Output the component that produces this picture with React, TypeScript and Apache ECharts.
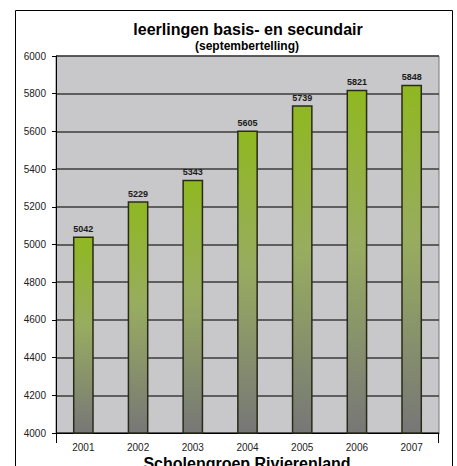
import React, { useEffect, useRef } from "react";
import * as echarts from "echarts";

const categories = ["2001", "2002", "2003", "2004", "2005", "2006", "2007"];
const values = [5042, 5229, 5343, 5605, 5739, 5821, 5848];
const titleText = "leerlingen basis- en secundair";
const subtitleText = "(septembertelling)";
const bottomText = "Scholengroep Rivierenland";

const FONT = "'Liberation Sans', Arial, Helvetica, sans-serif";

export default function App() {
  const ref = useRef<HTMLDivElement>(null);
  useEffect(() => {
    document.body.style.margin = "0";
    const chart = echarts.init(ref.current!, null, { renderer: "svg" });
    const gl = 56, gt = 56, gr = 439, gb = 433;
    chart.setOption({
      animation: false,
      backgroundColor: "#ffffff",
      textStyle: { fontFamily: FONT },
      grid: {
        left: gl,
        top: gt,
        right: 457 - gr,
        bottom: 466 - gb,
        show: true,
        backgroundColor: "#c8c8ca",
        borderColor: "#777777",
        borderWidth: 1,
      },
      graphic: [
        {
          type: "rect",
          shape: { x: 15.5, y: 10.5, width: 437, height: 470 },
          style: { fill: "none", stroke: "#000", lineWidth: 1 },
          silent: true,
          z: -10,
        },
        {
          type: "text",
          x: 248,
          y: 29,
          style: {
            text: titleText,
            font: `bold 16px ${FONT}`,
            fill: "#000",
            align: "center",
            verticalAlign: "middle",
          },
        },
        {
          type: "text",
          x: 247,
          y: 46,
          style: {
            text: subtitleText,
            font: `bold 12px ${FONT}`,
            fill: "#000",
            align: "center",
            verticalAlign: "middle",
          },
        },
        {
          type: "text",
          x: 247,
          y: 463,
          style: {
            text: bottomText,
            font: `bold 16px ${FONT}`,
            fill: "#000",
            align: "center",
            verticalAlign: "middle",
          },
        },
        {
          type: "line",
          shape: { x1: gl + 0.5, y1: gb, x2: gl + 0.5, y2: gb + 10 },
          style: { stroke: "#000", lineWidth: 1 },
        },
        {
          type: "line",
          shape: { x1: gr - 0.5, y1: gb, x2: gr - 0.5, y2: gb + 10 },
          style: { stroke: "#000", lineWidth: 1 },
        },
      ],
      xAxis: {
        type: "category",
        data: categories,
        axisLine: { show: true, lineStyle: { color: "#000", width: 1 } },
        axisTick: { show: false },
        axisLabel: { color: "#222", fontSize: 10, margin: 9, fontFamily: FONT },
        splitLine: { show: false },
      },
      yAxis: {
        type: "value",
        min: 4000,
        max: 6000,
        interval: 200,
        axisLine: { show: true, lineStyle: { color: "#000", width: 1 } },
        axisTick: { show: true, length: 4, lineStyle: { color: "#000" } },
        axisLabel: {
          color: "#222",
          fontSize: 10,
          margin: 10,
          fontFamily: FONT,
          formatter: (v: number) => String(v),
        },
        splitLine: { show: true, lineStyle: { color: "#3c3c3c", width: 1.5 } },
      },
      series: [
        {
          type: "bar",
          data: values,
          barWidth: "38%",
          itemStyle: {
            color: new echarts.graphic.LinearGradient(0, 0, 0, 1, [
              { offset: 0, color: "#8fb820" },
              { offset: 0.45, color: "#98ac60" },
              { offset: 1, color: "#777777" },
            ]),
            borderColor: "#2a2a1a",
            borderWidth: 1.5,
          },
          label: {
            show: true,
            position: "top",
            distance: 3,
            color: "#1a1a1a",
            fontSize: 9,
            fontWeight: "bold",
            fontFamily: FONT,
          },
        },
      ],
    });
    return () => chart.dispose();
  }, []);
  return <div ref={ref} style={{ width: 457, height: 466 }} />;
}
